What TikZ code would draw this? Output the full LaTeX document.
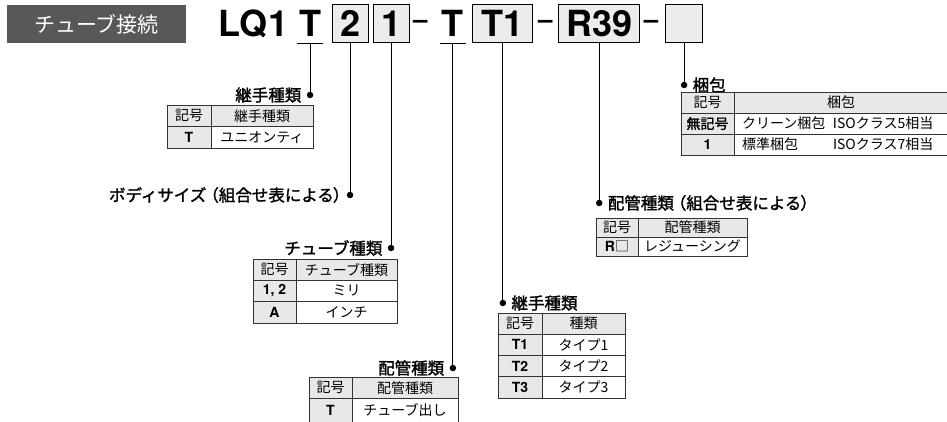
\documentclass[tikz,border=0pt]{standalone}
\usepackage{fontspec}
\setmainfont{TeX Gyre Heros}
\newfontfamily\jp{Noto Sans CJK JP}
\newfontfamily\jpb[FakeBold=1.6]{Noto Sans CJK JP}
\usetikzlibrary{positioning}
\definecolor{taggrey}{RGB}{88,88,90}
\definecolor{cellgrey}{RGB}{232,232,232}
\definecolor{boxgrey}{RGB}{236,236,236}

\begin{document}
\begin{tikzpicture}[x=1pt, y=-1pt,
    code/.style={font=\bfseries\fontsize{36}{36}\selectfont, text height=25pt, text depth=0pt, minimum height=38pt, inner sep=0pt, outer sep=0pt},
    codebox/.style={code, draw, fill=boxgrey, line width=1pt},
    codedash/.style={font=\bfseries\fontsize{26}{26}\selectfont, inner sep=0pt},
    pin/.style={circle, fill, inner sep=0pt, minimum size=6.5pt},
    lbl/.style={font=\jpb\fontsize{16.5}{17}\selectfont, inner sep=0pt},
    cell/.style={draw=black!80, line width=0.8pt, inner sep=0pt, outer sep=0pt, font=\jp\fontsize{14}{14}\selectfont},
    hcell/.style={cell, fill=cellgrey},
    kcell/.style={cell, fill=cellgrey, font=\bfseries\fontsize{14}{14}\selectfont},
    vcell/.style={cell, fill=white},
    link/.style={line width=0.9pt}
  ]
  \useasboundingbox (0,0) rectangle (947,422);
  \clip (0,0) rectangle (947,422);

  % heading
  \node[fill=taggrey, text=white, minimum width=179pt, minimum height=38pt, inner sep=0pt, font=\jp\fontsize{21}{21}\selectfont] (tag) at (96.5,24) {チューブ接続};

  % model code
  \node[code, anchor=west] (lq) at (218,24) {LQ1};
  \node[code, minimum width=26pt, right=9pt of lq] (tT) {T};
  \node[codebox, minimum width=36pt, right=9pt of tT] (b2) {2};
  \node[codebox, minimum width=36pt, right=5pt of b2] (b1) {1};
  \node[codedash, right=4pt of b1] (d1) {–};
  \node[code, minimum width=26pt, right=12pt of d1] (tP) {T};
  \node[codebox, minimum width=60pt, right=7pt of tP] (bT) {T1};
  \node[codedash, right=5pt of bT] (d2) {–};
  \node[codebox, minimum width=81pt, right=6pt of d2] (bR) {R39};
  \node[codedash, right=4pt of bR] (d3) {–};
  \node[codebox, minimum width=37pt, right=7pt of d3] (bE) {};
  \draw[link] (tT.south west) -- (tT.south east);
  \draw[link] (tP.south west) -- (tP.south east);

  % pins and labels
  \node[pin] (pA) at (tT |- 0,95) {};
  \node[pin] (pB) at (b2 |- 0,195) {};
  \node[pin] (pC) at (b1 |- 0,248) {};
  \node[pin] (pD) at (tP |- 0,368) {};
  \node[pin] (pE) at (bT |- 0,303) {};
  \node[pin] (pF) at (bR |- 0,203) {};
  \node[pin] (pG) at (bE |- 0,85) {};
  \draw[link] (tT.south) -- (pA);
  \draw[link] (b2.south) -- (pB);
  \draw[link] (b1.south) -- (pC);
  \draw[link] (tP.south) -- (pD);
  \draw[link] (bT.south) -- (pE);
  \draw[link] (bR.south) -- (pF);
  \draw[link] (bE.south) -- (pG);
  \node[lbl, left=5pt of pA] (lA) {継手種類};
  \node[lbl, left=5pt of pB] (lB) {ボディサイズ\kern-4pt（組合せ表による\kern-1pt）\kern-8pt};
  \node[lbl, left=5pt of pC] (lC) {チューブ種類};
  \node[lbl, left=5pt of pD] (lD) {配管種類};
  \node[lbl, right=5pt of pE] (lE) {継手種類};
  \node[lbl, right=5pt of pF] (lF) {配管種類\kern-4pt（組合せ表による\kern-1pt）};
  \node[lbl, right=5pt of pG] (lG) {梱包};

  % table: joint
  \begin{scope}[every node/.append style={minimum height=21.5pt}, c1/.style={minimum width=44pt}, c2/.style={minimum width=102pt}]
    \node[hcell, c1, anchor=north west] (ja1) at (167,105) {記号};
    \node[hcell, c2, right=0pt of ja1] (ja2) {継手種類};
    \node[kcell, c1, below=0pt of ja1] (ja3) {T};
    \node[vcell, c2, below=0pt of ja2] (ja4) {ユニオンティ};
  \end{scope}

  % table: tube
  \begin{scope}[every node/.append style={minimum height=21.3pt}, c1/.style={minimum width=43pt}, c2/.style={minimum width=101pt}]
    \node[hcell, c1, anchor=north west] (tu1) at (253,259) {記号};
    \node[hcell, c2, right=0pt of tu1] (tu2) {チューブ種類};
    \node[kcell, c1, below=0pt of tu1] (tu3) {1, 2};
    \node[vcell, c2, below=0pt of tu2] (tu4) {ミリ};
    \node[kcell, c1, below=0pt of tu3] (tu5) {A};
    \node[vcell, c2, below=0pt of tu4] (tu6) {インチ};
  \end{scope}

  % table: piping
  \begin{scope}[every node/.append style={minimum height=21.5pt}, c1/.style={minimum width=43pt}, c2/.style={minimum width=106pt}]
    \node[hcell, c1, anchor=north west] (pi1) at (309,377) {記号};
    \node[hcell, c2, right=0pt of pi1] (pi2) {配管種類};
    \node[kcell, c1, minimum height=24pt, below=0pt of pi1] (pi3) {T};
    \node[vcell, c2, minimum height=24pt, below=0pt of pi2] (pi4) {チューブ出し};
  \end{scope}

  % table: joint type
  \begin{scope}[every node/.append style={minimum height=21.25pt}, c1/.style={minimum width=44pt}, c2/.style={minimum width=83pt}]
    \node[hcell, c1, anchor=north west] (jt1) at (498,313) {記号};
    \node[hcell, c2, right=0pt of jt1] (jt2) {種類};
    \node[kcell, c1, below=0pt of jt1] (jt3) {T1};
    \node[vcell, c2, below=0pt of jt2] (jt4) {タイプ1};
    \node[kcell, c1, below=0pt of jt3] (jt5) {T2};
    \node[vcell, c2, below=0pt of jt4] (jt6) {タイプ2};
    \node[kcell, c1, below=0pt of jt5] (jt7) {T3};
    \node[vcell, c2, below=0pt of jt6] (jt8) {タイプ3};
  \end{scope}

  % table: reducing
  \begin{scope}[every node/.append style={minimum height=19pt}, c1/.style={minimum width=42pt}, c2/.style={minimum width=109pt}]
    \node[hcell, c1, anchor=north west] (rd1) at (596,218) {記号};
    \node[hcell, c2, right=0pt of rd1] (rd2) {配管種類};
    \node[kcell, c1, below=0pt of rd1] (rd3) {R{\jp\mdseries □}};
    \node[vcell, c2, below=0pt of rd2] (rd4) {レジューシング};
  \end{scope}

  % table: packing
  \begin{scope}[every node/.append style={minimum height=21pt}, c1/.style={minimum width=53pt}, c2/.style={minimum width=214pt}]
    \node[hcell, c1, anchor=north west] (pk1) at (681,92) {記号};
    \node[hcell, c2, right=0pt of pk1] (pk2) {梱包};
    \node[kcell, c1, below=0pt of pk1] (pk3) {\jpb\mdseries 無記号};
    \node[vcell, c2, text width=198pt, inner xsep=8pt, align=left, below=0pt of pk2] (pk4) {\makebox[91pt][l]{クリーン梱包}ISOクラス5相当};
    \node[kcell, c1, below=0pt of pk3] (pk5) {1};
    \node[vcell, c2, text width=198pt, inner xsep=8pt, align=left, below=0pt of pk4] (pk6) {\makebox[91pt][l]{標準梱包}ISOクラス7相当};
  \end{scope}
\end{tikzpicture}
\end{document}
